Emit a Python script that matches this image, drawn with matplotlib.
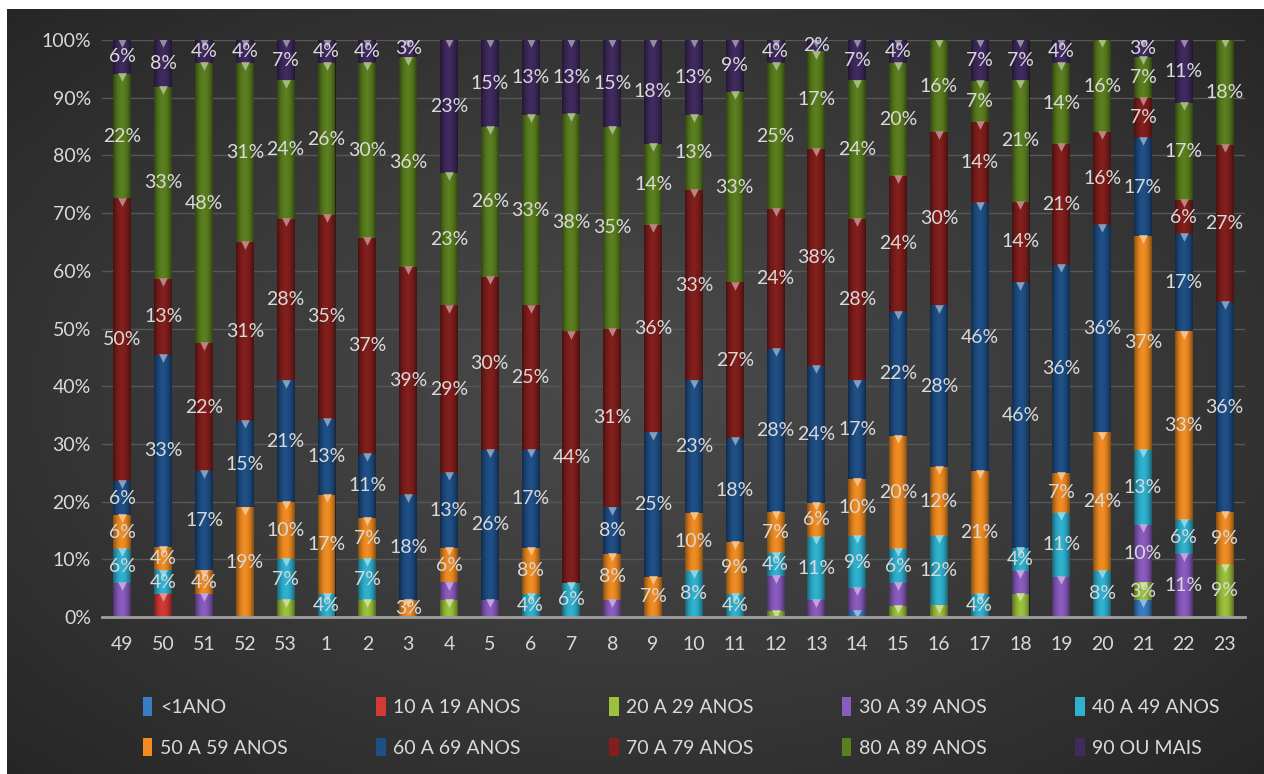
import numpy as np
import matplotlib
matplotlib.use('Agg')
import matplotlib.pyplot as plt
from matplotlib.patches import Patch
from matplotlib.colors import LinearSegmentedColormap, to_rgb

weeks = ['49', '50', '51', '52', '53', '1', '2', '3', '4', '5', '6', '7', '8', '9',
         '10', '11', '12', '13', '14', '15', '16', '17', '18', '19', '20', '21', '22', '23']

groups = ['<1ANO', '10 A 19 ANOS', '20 A 29 ANOS', '30 A 39 ANOS', '40 A 49 ANOS',
          '50 A 59 ANOS', '60 A 69 ANOS', '70 A 79 ANOS', '80 A 89 ANOS', '90 OU MAIS']

# percent of cases per week, per age group
lt1 = [0, 0, 0, 0, 0, 0, 0, 0, 0, 0, 0, 0, 0, 0, 0, 0, 0, 0, 1, 0, 0, 0, 0, 0, 0, 3, 0, 0]
a10 = [0, 4, 0, 0, 0, 0, 0, 0, 0, 0, 0, 0, 0, 0, 0, 0, 0, 0, 0, 0, 0, 0, 0, 0, 0, 0, 0, 0]
a20 = [0, 0, 0, 0, 3, 0, 3, 0, 3, 0, 0, 0, 0, 0, 0, 0, 1, 0, 0, 2, 2, 0, 4, 0, 0, 3, 0, 9]
a30 = [6, 0, 4, 0, 0, 0, 0, 0, 3, 3, 0, 0, 3, 0, 0, 0, 6, 3, 4, 4, 0, 0, 4, 7, 0, 10, 11, 0]
a40 = [6, 4, 0, 0, 7, 4, 7, 0, 0, 0, 4, 6, 0, 0, 8, 4, 4, 11, 9, 6, 12, 4, 4, 11, 8, 13, 6, 0]
a50 = [6, 4, 4, 19, 10, 17, 7, 3, 6, 0, 8, 0, 8, 7, 10, 9, 7, 6, 10, 20, 12, 21, 0, 7, 24, 37, 33, 9]
a60 = [6, 33, 17, 15, 21, 13, 11, 18, 13, 26, 17, 0, 8, 25, 23, 18, 28, 24, 17, 22, 28, 46, 46, 36, 36, 17, 17, 36]
a70 = [50, 13, 22, 31, 28, 35, 37, 39, 29, 30, 25, 44, 31, 36, 33, 27, 24, 38, 28, 24, 30, 14, 14, 21, 16, 7, 6, 27]
a80 = [22, 33, 48, 31, 24, 26, 30, 36, 23, 26, 33, 38, 35, 14, 13, 33, 25, 17, 24, 20, 16, 7, 21, 14, 16, 7, 17, 18]
a90 = [6, 8, 4, 4, 7, 4, 4, 3, 23, 15, 13, 13, 15, 18, 13, 9, 4, 2, 7, 4, 0, 7, 7, 4, 0, 3, 11, 0]

colors = ['#3b7dc4', '#d23a36', '#9cc13c', '#8a5cc0', '#2fb2d0',
          '#f08c22', '#1f4f86', '#821f1d', '#5b7f1f', '#402a5e']

data = np.array([lt1, a10, a20, a30, a40, a50, a60, a70, a80, a90], dtype=float)
share = data / data.sum(axis=0) * 100  # 100% stacked

plt.rcParams['font.family'] = ['Lato', 'DejaVu Sans']
txt = '#d9d9d9'

fig = plt.figure(figsize=(12.64, 7.74), dpi=100)
fig.patch.set_facecolor('white')

# radial grey background, lighter in the middle (white strip top/left like the source)
bg = fig.add_axes([7 / 1264, 0, 1257 / 1264, 765 / 774], zorder=-5)
yy, xx = np.mgrid[-1:1:300j, -1:1:500j]
r = np.sqrt(xx ** 2 + yy ** 2)
bgcmap = LinearSegmentedColormap.from_list('bg', ['#4b4b4b', '#3a3a3a', '#262626'])
bg.imshow(r, cmap=bgcmap, vmin=0, vmax=1.42, aspect='auto', extent=(0, 1, 0, 1))
bg.axis('off')

ax = fig.add_axes([102 / 1264, 157 / 774, 1143 / 1264, 577 / 774])
ax.set_facecolor('none')

x = np.arange(len(weeks))
w = 0.44
bottom = np.zeros(len(weeks))
for i, g in enumerate(groups):
    ax.bar(x, share[i], w, bottom=bottom, color=colors[i], zorder=2, linewidth=0)
    top = bottom + share[i]
    has = data[i] > 0
    light = 0.55 * np.array(to_rgb(colors[i])) + 0.45
    ax.scatter(x[has], top[has] - 0.55, marker='v', s=38, color=light,
               linewidths=0, zorder=4)
    for j in range(len(weeks)):
        if data[i, j] <= 0:
            continue
        show = i >= 4 or (i >= 1 and j >= 25)
        if show:
            ax.text(x[j], bottom[j] + share[i, j] / 2, '%d%%' % data[i, j],
                    ha='center', va='center', color=txt, fontsize=14, zorder=5)
    bottom = top

# bevel shading on each bar
shade = np.zeros((1, 40, 4))
t = np.linspace(-1, 1, 40)
shade[0, :, 3] = 0.45 * np.abs(t) ** 2
for xi in x:
    ax.imshow(shade, extent=(xi - w / 2, xi + w / 2, 0, 100), aspect='auto', zorder=3)

ax.set_xlim(-0.5, len(weeks) - 0.5)
ax.set_ylim(0, 100)
ax.set_yticks(np.arange(0, 101, 10))
ax.set_yticklabels(['%d%%' % v for v in range(0, 101, 10)])
ax.set_xticks(x)
ax.set_xticklabels(weeks)
ax.tick_params(colors=txt, labelsize=14, length=0)
ax.tick_params(axis='x', pad=14)
ax.tick_params(axis='y', pad=8)
ax.grid(axis='y', color='#575757', linewidth=1, zorder=0)
for s in ['top', 'right', 'left']:
    ax.spines[s].set_visible(False)
ax.spines['bottom'].set_color('#a0a0a0')
ax.spines['bottom'].set_linewidth(2)
ax.spines['bottom'].set_zorder(4)

handles = [Patch(facecolor=c, label=g) for c, g in zip(colors, groups)]
order = [0, 5, 1, 6, 2, 7, 3, 8, 4, 9]
fig.legend([handles[k] for k in order], [groups[k] for k in order], ncol=5,
           loc='lower left', bbox_to_anchor=(0.099, 0.0, 0.88, 0.12), mode='expand',
           frameon=False, fontsize=14, labelcolor=txt, handlelength=0.5,
           handleheight=1.1, handletextpad=0.4, labelspacing=1.1)

fig.savefig('out.png', dpi=100, facecolor=fig.get_facecolor())
